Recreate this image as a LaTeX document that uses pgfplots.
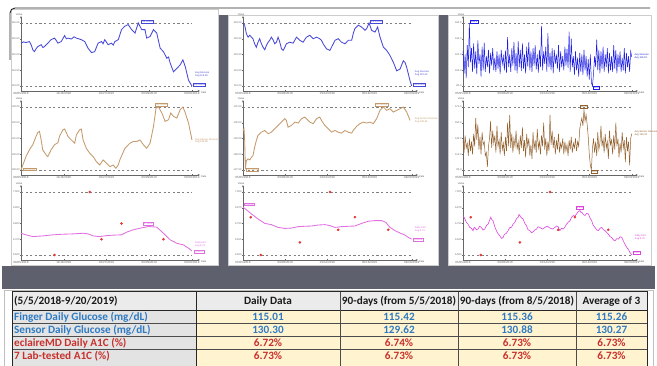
\documentclass[border=0pt]{standalone}
\usepackage{fontspec}
\setmainfont{Liberation Sans}
\newfontfamily\tabfont{Carlito}
\usepackage{pgfplots}
\pgfplotsset{compat=1.18}
\usetikzlibrary{arrows.meta}

\definecolor{gblue}{HTML}{4848D8}
\definecolor{dblue}{HTML}{1E1EE6}
\definecolor{ltbrown}{HTML}{C49A6C}
\definecolor{dbrown}{HTML}{94622F}
\definecolor{mag}{HTML}{E070E0}
\definecolor{dmag}{HTML}{DD44DD}
\definecolor{labred}{HTML}{E53935}
\definecolor{band}{HTML}{5E616D}
\definecolor{tblue}{HTML}{2E7BC4}
\definecolor{tred}{HTML}{C8302C}
\definecolor{hdrgray}{HTML}{EBEBEB}
\definecolor{lblgray}{HTML}{E3E3E3}
\definecolor{cellyel}{HTML}{FFF3D0}

\tikzset{annot/.style={font=\fontsize{2.5}{2.9}\selectfont, inner sep=0.5pt, align=left}}

\pgfplotsset{
  mini/.style={
    scale only axis, height=75pt, anchor=south west,
    axis lines=left, xmin=0, clip=false,
    axis line style={draw=black!60, line width=0.35pt, -{Stealth[length=2.4pt,width=1.8pt]}},
    tick style={draw=black!60, line width=0.3pt},
    major tick length=1.3pt,
    /pgf/number format/assume math mode=true,
    tick label style={font=\fontsize{2.6}{3}\selectfont, text=black!60, inner sep=0.6pt},
    xticklabel style={font=\fontsize{3}{3.4}\selectfont},
    ylabel=Value, xlabel=Date,
    every axis y label/.style={at={(rel axis cs:0,1)}, anchor=south east, xshift=2pt,
      font=\fontsize{2.6}{3}\selectfont, text=black!60, inner sep=0.4pt},
    every axis x label/.style={at={(rel axis cs:1,0)}, anchor=north west, xshift=0.3pt, yshift=-0.4pt,
      font=\fontsize{2.6}{3}\selectfont, text=black!60, inner sep=0.4pt},
  },
  prec/.style={yticklabel style={/pgf/number format/fixed, /pgf/number format/fixed zerofill,
      /pgf/number format/precision=#1}},
  p1/.style={mini, width=179pt, xmax=104.7, xtick={0,25,50,75,100},
    xticklabels={08/05/2018,11/16/2018,02/27/2019,06/09/2019,09/20/2019}},
  p2/.style={mini, width=175pt, xmax=103.7, xtick={0,25,50,75,100},
    xticklabels={05/05/2018,09/08/2018,01/12/2019,05/18/2019,09/20/2019}},
  p3/.style={mini, width=175pt, xmax=164.9, xtick={0,39.75,79.5,119.25,159},
    xticklabels={05/05/2018,09/08/2018,01/12/2019,05/18/2019,09/20/2019}},
  refdash/.style={draw=black!50, dash pattern=on 2.2pt off 2.4pt, line width=0.55pt},
  labdot/.style={only marks, mark=*, mark size=1.1pt, labred, mark options={draw=labred, fill=labred}},
}

\begin{document}
\begin{tikzpicture}
\path[use as bounding box, fill=white] (0,0) rectangle (657pt,366pt);

% frame, panels, separators and the summary table (y measured downward)
\begin{scope}[x=1pt,y=-1pt,shift={(0pt,366pt)}]
  \fill[band] (218,15) rectangle (228,266);
  \fill[band] (438,15) rectangle (448,266);
  \fill[band] (2,266) rectangle (655,289);
  \draw[black!20, line width=0.5pt] (11,9) rectangle (218,265);
  \draw[black!20, line width=0.5pt] (228,15) rectangle (438,265);
  \draw[black!20, line width=0.5pt] (448,15) rectangle (651,265);
  \draw[black!85, line width=0.9pt, rounded corners=5pt] (10,60) -- (10,8) -- (650,8);

  % table
  \draw[black!25, line width=0.5pt] (4,290) rectangle (653,368);
  \fill[hdrgray] (12,292) rectangle (647,310);
  \fill[lblgray] (12,310) rectangle (196,368);
  \fill[cellyel] (196,310) rectangle (647,368);
  \foreach \yy in {323,336,349} \draw[black!70, line width=0.5pt] (12,\yy) -- (647,\yy);
  \draw[black!85, line width=0.8pt] (12,310) -- (647,310);
  \foreach \xx in {340,458,576} \draw[black!70, line width=0.5pt] (\xx,292) -- (\xx,368);
  \draw[black!85, line width=0.9pt] (196,292) -- (196,368);
  \draw[black!85, line width=1pt] (12,368) -- (12,292) -- (647,292) -- (647,368);

  \begin{scope}[every node/.style={inner sep=0pt, font=\tabfont\bfseries\fontsize{11.2}{12}\selectfont}]
    \node[anchor=base west, text=black!90] at (14,305) {(5/5/2018-9/20/2019)};
    \node[anchor=base, text=black!90] at (268,305) {Daily Data};
    \node[anchor=base, text=black!90] at (399,305) {90-days (from 5/5/2018)};
    \node[anchor=base, text=black!90] at (517,305) {90-days (from 8/5/2018)};
    \node[anchor=base, text=black!90] at (611.5,305) {Average of 3};

    \node[anchor=base west, text=tblue] at (14,320.5) {Finger Daily Glucose (mg/dL)};
    \node[anchor=base west, text=tblue] at (14,333.5) {Sensor Daily Glucose (mg/dL)};
    \node[anchor=base west, text=tred] at (14,346.5) {eclaireMD Daily A1C (\%)};
    \node[anchor=base west, text=tred] at (14,359.5) {7 Lab-tested A1C (\%)};

    \node[anchor=base, text=tblue] at (268,320.5) {115.01};
    \node[anchor=base, text=tblue] at (399,320.5) {115.42};
    \node[anchor=base, text=tblue] at (517,320.5) {115.36};
    \node[anchor=base, text=tblue] at (611.5,320.5) {115.26};
    \node[anchor=base, text=tblue] at (268,333.5) {130.30};
    \node[anchor=base, text=tblue] at (399,333.5) {129.62};
    \node[anchor=base, text=tblue] at (517,333.5) {130.88};
    \node[anchor=base, text=tblue] at (611.5,333.5) {130.27};
    \node[anchor=base, text=tred] at (268,346.5) {6.72\%};
    \node[anchor=base, text=tred] at (399,346.5) {6.74\%};
    \node[anchor=base, text=tred] at (517,346.5) {6.73\%};
    \node[anchor=base, text=tred] at (611.5,346.5) {6.73\%};
    \node[anchor=base, text=tred] at (268,359.5) {6.73\%};
    \node[anchor=base, text=tred] at (399,359.5) {6.73\%};
    \node[anchor=base, text=tred] at (517,359.5) {6.73\%};
    \node[anchor=base, text=tred] at (611.5,359.5) {6.73\%};
  \end{scope}
\end{scope}

%% ---------- 90 days from 8/5/2018 ----------
\begin{axis}[p1, at={(21pt,275pt)}, ymin=113.841, ymax=116.222,
  ytick={114,114.5,115,115.5,116}, prec=2]
\addplot[refdash] coordinates {(0,116) (100,116)};
\addplot[refdash] coordinates {(0,114) (100,114)};
\addplot[gblue, line width=0.85pt] table {
x y
0 115.36
1.5 115.40
2.9 115.38
4.9 115.41
6.0 115.30
6.9 115.15
7.8 115.09
8.8 115.18
9.8 115.25
11.8 115.31
12.8 115.22
13.7 115.25
15.7 115.36
17.6 115.47
19.6 115.52
20.6 115.45
21.6 115.36
23.5 115.41
25.5 115.60
26.5 115.50
27.5 115.52
29.4 115.49
31.0 115.56
32.4 115.52
35.3 115.47
37.3 115.41
39.2 115.20
41.2 115.06
43.1 115.09
45.1 115.36
47.1 115.41
48.0 115.34
49.0 115.47
51.0 115.31
52.9 115.36
54.0 115.30
54.9 115.41
56.9 115.47
58.8 115.79
60.8 115.90
62.7 115.95
64.7 115.79
66.7 115.68
68.6 116.00
70.6 115.79
72.5 115.79
73.5 115.52
75.5 115.57
77.5 115.79
79.4 115.68
81.4 115.20
83.3 115.09
85.3 114.88
86.3 114.92
87.3 114.72
89.2 114.45
91.2 114.56
93.1 114.67
94.7 114.83
96.1 114.61
98.0 114.18
100 114.00
};
\node[annot, draw=gblue, text=gblue, anchor=south west] at (axis cs:70,116) {116.00000};
\node[annot, text=gblue, anchor=west] at (axis cs:101.5,114.38) {Avg Glucose\\Avg 115.36};
\node[annot, draw=gblue, text=gblue, anchor=south west] at (axis cs:100.5,113.98) {114.00000};
\end{axis}

\begin{axis}[p1, at={(21pt,191pt)}, ymin=128.683, ymax=133.444,
  ytick={129,130,131,132,133}, prec=2]
\addplot[refdash] coordinates {(0,133) (100,133)};
\addplot[refdash] coordinates {(0,129) (100,129)};
\addplot[ltbrown, line width=0.85pt] table {
x y
0 129.00
2.9 129.85
4.9 130.28
6.9 130.60
8.8 131.13
9.8 131.38
10.8 131.45
11.8 130.91
12.7 130.28
14.7 129.96
15.7 129.85
17.6 130.28
19.6 130.60
21.6 130.74
22.5 131.13
24.5 131.55
25.5 131.60
27.5 131.13
28.4 131.02
29.4 130.91
31.4 130.70
32.4 131.23
34.3 131.55
35.3 131.60
36.3 130.91
38.2 130.38
40.2 130.06
42.2 129.85
44.1 129.53
46.1 129.32
48.0 129.64
50.0 129.43
52.0 129.21
53.9 129.32
55.5 129.11
56.9 129.32
57.8 129.64
60.8 130.38
63.7 130.70
65.7 130.81
67.6 130.81
69.6 130.91
71.6 130.60
73.5 130.38
75.5 130.70
77.5 131.77
79.0 132.94
80.4 133.00
82.4 132.62
84.3 132.09
86.3 132.19
87.6 132.62
89.2 132.40
91.2 132.30
93.1 132.83
94.7 133.00
96.1 132.62
98.0 131.98
100 130.91
};
\node[annot, draw=ltbrown, text=ltbrown, anchor=south] at (axis cs:82,133.05) {133.00000};
\node[annot, draw=ltbrown, text=ltbrown, anchor=west] at (axis cs:1,129.05) {129.00000};
\node[annot, text=ltbrown, anchor=west] at (axis cs:101.5,130.85) {Avg Sensor Glucose\\Avg 130.88};
\end{axis}

\begin{axis}[p1, at={(21pt,106pt)}, ymin=6.5683, ymax=7.0444,
  ytick={6.6,6.7,6.8,6.9,7.0}, prec=3]
\addplot[refdash] coordinates {(0,7.0) (100,7.0)};
\addplot[refdash] coordinates {(0,6.6) (100,6.6)};
\addplot[mag, line width=0.85pt] table {
x y
0 6.738
2.9 6.728
6.9 6.717
12.7 6.721
18.6 6.728
24.5 6.732
30.4 6.734
36.3 6.738
39.2 6.734
42.2 6.721
46.1 6.717
50.0 6.723
53.9 6.726
58.8 6.728
61.8 6.745
65.7 6.760
69.6 6.770
74.5 6.781
79.4 6.777
83.3 6.738
87.3 6.696
91.2 6.674
95.1 6.664
98.0 6.643
100 6.626
};
\addplot[labdot] coordinates {(19.6,6.6) (40.2,7.0) (47.1,6.7) (58.8,6.8) (83.3,6.7)};
\node[annot, draw=mag, text=mag, anchor=south] at (axis cs:74.5,6.79) {6.78092};
\node[annot, text=mag, anchor=west] at (axis cs:101.5,6.67) {Daily A1C\\Avg 6.73};
\node[annot, draw=mag, text=mag, anchor=west] at (axis cs:101,6.62) {6.62572};
\end{axis}

%% ---------- 90 days from 5/5/2018 ----------
\begin{axis}[p2, at={(243pt,275pt)}, ymin=113.841, ymax=116.222,
  ytick={114,114.5,115,115.5,116}, prec=2]
\addplot[refdash] coordinates {(0,116) (100,116)};
\addplot[refdash] coordinates {(0,114) (100,114)};
\addplot[gblue, line width=0.85pt] table {
x y
0 116.00
1.0 115.93
2.0 115.66
3.0 115.55
4.0 115.61
5.0 115.55
5.9 115.50
6.9 115.34
7.9 115.23
8.9 115.39
9.9 115.50
10.9 115.34
11.9 115.23
12.9 115.15
13.9 115.29
14.9 115.39
15.8 115.45
16.8 115.55
17.8 115.47
18.8 115.34
19.8 115.39
20.8 115.55
21.8 115.39
22.8 115.18
23.8 115.13
24.8 115.23
25.7 115.34
27.7 115.39
29.7 115.36
31.7 115.55
33.7 115.45
35.6 115.39
37.6 115.55
39.6 115.61
41.6 115.50
43.6 115.55
45.5 115.50
46.5 115.45
47.5 115.34
49.5 115.18
51.5 115.13
53.5 115.34
54.5 115.45
56.4 115.50
58.4 115.39
60.4 115.34
62.4 115.45
64.4 115.45
65.3 115.66
66.3 115.82
68.3 115.93
70.3 115.87
72.3 115.77
73.3 115.82
74.7 116.00
76.2 115.77
78.2 115.71
79.8 115.87
81.2 115.55
83.2 115.23
85.1 115.13
87.1 114.97
89.1 114.75
91.1 114.48
93.1 114.54
95.0 114.80
96.0 114.75
97.0 114.59
98.0 114.38
99.0 114.16
100 114.00
};
\node[annot, draw=gblue, text=gblue, anchor=south west] at (axis cs:75,116) {116.00000};
\node[annot, text=gblue, anchor=west] at (axis cs:101.5,114.40) {Avg Glucose\\Avg 115.42};
\node[annot, draw=gblue, text=gblue, anchor=south west] at (axis cs:100.5,113.98) {114.00000};
\end{axis}

\begin{axis}[p2, at={(243pt,191pt)}, ymin=126.683, ymax=131.444,
  ytick={127,128,129,130,131}, prec=2]
\addplot[refdash] coordinates {(0,131) (100,131)};
\addplot[refdash] coordinates {(0,127) (100,127)};
\addplot[ltbrown, line width=0.85pt] table {
x y
0 129.51
0.6 129.62
1.0 128.87
1.4 127.05
2.0 127.60
3.0 127.70
4.0 127.64
5.0 127.81
5.9 127.91
6.9 128.45
7.9 128.87
8.9 129.19
10.9 129.40
12.9 129.51
14.9 129.30
16.8 129.40
18.8 129.62
20.8 129.83
22.8 130.04
24.8 130.26
25.7 130.15
26.7 129.72
28.7 129.83
30.7 130.04
32.7 129.98
34.7 130.26
36.6 130.36
38.6 130.15
39.6 130.04
41.6 129.94
43.6 130.26
45.5 130.36
46.5 130.15
48.5 129.83
50.5 129.62
52.5 129.40
54.5 129.51
56.4 129.40
58.4 129.34
60.4 129.51
62.4 129.40
64.4 129.34
65.3 129.51
67.3 129.77
69.3 129.94
71.3 130.04
73.3 129.98
75.2 130.04
77.2 129.94
79.2 130.26
81.2 130.79
83.2 131.00
85.1 130.79
87.1 130.89
89.1 130.68
91.1 130.79
93.1 130.89
95.0 131.00
97.0 130.68
99.0 130.15
};
\node[annot, draw=ltbrown, text=ltbrown, anchor=south] at (axis cs:82,131.05) {131.00000};
\node[annot, draw=ltbrown, text=ltbrown, anchor=west] at (axis cs:1.5,127.02) {127.05000};
\node[annot, text=ltbrown, anchor=west] at (axis cs:101.5,130.15) {Avg Sensor Glucose\\Avg 129.62};
\end{axis}

\begin{axis}[p2, at={(243pt,106pt)}, ymin=6.4604, ymax=7.0556,
  ytick={6.5,6.625,6.75,6.875,7.0}, prec=3]
\addplot[refdash] coordinates {(0,7.0) (100,7.0)};
\addplot[refdash] coordinates {(0,6.5) (100,6.5)};
\addplot[mag, line width=0.85pt] table {
x y
0 6.880
2.0 6.859
5.0 6.826
8.9 6.786
12.9 6.751
16.8 6.741
20.8 6.719
24.8 6.711
28.7 6.714
32.7 6.725
36.6 6.728
40.6 6.730
44.6 6.738
48.5 6.741
51.5 6.733
54.5 6.719
58.4 6.725
62.4 6.728
66.3 6.730
70.3 6.751
74.3 6.768
78.2 6.773
82.2 6.773
84.6 6.759
87.1 6.719
90.1 6.693
93.1 6.674
96.0 6.658
98.0 6.639
100 6.626
};
\addplot[labdot] coordinates {(4.6,6.8) (10.5,6.5) (33.7,6.6) (51.5,7.0) (56.4,6.7) (66.3,6.8) (86.1,6.7)};
\node[annot, draw=mag, text=mag, anchor=south west] at (axis cs:0.5,6.89) {6.88028};
\node[annot, text=mag, anchor=west] at (axis cs:101.5,6.70) {Daily A1C\\Avg 6.74};
\node[annot, draw=mag, text=mag, anchor=west] at (axis cs:100.5,6.62) {6.62628};
\end{axis}

%% ---------- daily data 5/5/2018 - 9/20/2019 ----------
\begin{axis}[p3, at={(463pt,275pt)}, ymin=73.66, ymax=168.89,
  ytick={80,100,120,140,160}, prec=1]
\addplot[refdash] coordinates {(0,160) (159,160)};
\addplot[refdash] coordinates {(0,80) (159,80)};
\addplot[dblue, line width=0.5pt] table[header=false, row sep=\\, x expr=\coordindex, y index=0] {
125\\96\\120\\90\\132\\104\\160\\110\\128\\98\\
134\\102\\124\\95\\138\\108\\120\\92\\130\\100\\
135\\98\\118\\104\\126\\96\\122\\106\\128\\100\\
116\\98\\124\\102\\120\\95\\126\\108\\118\\100\\
125\\97\\142\\104\\120\\98\\128\\106\\136\\100\\
122\\96\\137\\104\\126\\99\\134\\102\\120\\96\\
130\\105\\136\\100\\124\\98\\128\\106\\132\\101\\
120\\97\\126\\104\\156\\100\\124\\108\\130\\98\\
147\\104\\122\\100\\128\\96\\126\\108\\120\\102\\
132\\98\\124\\104\\118\\100\\130\\106\\127\\103\\
149\\98\\140\\104\\118\\94\\124\\100\\116\\92\\
122\\98\\120\\94\\126\\100\\118\\92\\114\\88\\
120\\84\\80\\96\\118\\104\\139\\100\\126\\96\\
124\\102\\130\\98\\120\\104\\128\\96\\122\\100\\
118\\98\\132\\102\\126\\96\\120\\104\\124\\98\\
116\\100\\128\\96\\122\\104\\118\\98\\124\\117\\
};
\node[annot, draw=dblue, text=dblue, anchor=south west] at (axis cs:7,160) {160.0};
\node[annot, draw=dblue, text=dblue, anchor=north west] at (axis cs:122.5,80) {80.0};
\node[annot, text=dblue, anchor=west] at (axis cs:161,118) {Avg Glucose\\Avg 115.01};
\end{axis}

\begin{axis}[p3, at={(463pt,191pt)}, ymin=83.66, ymax=178.89,
  ytick={90,110,130,150,170}, prec=1]
\addplot[refdash] coordinates {(0,170) (159,170)};
\addplot[refdash] coordinates {(0,90) (159,90)};
\addplot[dbrown, line width=0.5pt] table[header=false, row sep=\\, x expr=\coordindex, y index=0] {
128\\112\\134\\118\\124\\108\\130\\114\\126\\110\\
136\\120\\156\\128\\148\\116\\132\\110\\138\\122\\
126\\108\\112\\94\\120\\130\\152\\118\\140\\124\\
134\\112\\146\\120\\128\\110\\138\\116\\124\\108\\
132\\114\\150\\120\\160\\118\\136\\112\\130\\120\\
140\\116\\126\\110\\134\\118\\144\\114\\128\\106\\
136\\120\\130\\108\\122\\104\\138\\116\\128\\112\\
142\\118\\126\\110\\134\\120\\150\\116\\130\\108\\
126\\114\\160\\122\\140\\118\\132\\110\\128\\116\\
136\\112\\124\\118\\130\\110\\126\\114\\122\\108\\
128\\116\\132\\112\\124\\118\\130\\114\\126\\120\\
142\\150\\156\\146\\167\\152\\160\\148\\132\\110\\
96\\90\\118\\130\\112\\126\\108\\138\\116\\124\\
146\\120\\130\\112\\136\\118\\126\\104\\140\\122\\
128\\110\\134\\116\\150\\120\\130\\106\\124\\112\\
138\\118\\128\\100\\132\\114\\126\\96\\130\\136\\
};
\node[annot, draw=dbrown, text=dbrown, anchor=south] at (axis cs:114,168) {167.0};
\node[annot, draw=dbrown, text=dbrown, anchor=north west] at (axis cs:121,90) {90.0};
\node[annot, text=dbrown, anchor=west] at (axis cs:161,137) {Avg Sensor Glucose\\Avg 130.30};
\end{axis}

\begin{axis}[p3, xmax=103.7, xtick={0,25,50,75,100}, at={(463pt,106pt)}, ymin=6.4604, ymax=7.0556,
  ytick={6.5,6.625,6.75,6.875,7.0}, prec=3]
\addplot[refdash] coordinates {(0,7.0) (100,7.0)};
\addplot[refdash] coordinates {(0,6.5) (100,6.5)};
\addplot[dmag, line width=0.6pt] table {
x y
0 6.813
1.0 6.790
2.0 6.759
3.0 6.745
4.0 6.719
5.0 6.712
5.9 6.693
6.4 6.712
6.9 6.719
7.9 6.700
8.9 6.706
9.9 6.728
10.9 6.719
11.9 6.698
12.9 6.706
13.9 6.735
14.9 6.746
15.6 6.770
16.4 6.800
17.1 6.780
17.8 6.773
18.8 6.725
19.8 6.693
20.8 6.668
21.8 6.653
22.8 6.632
23.8 6.639
24.3 6.658
24.8 6.666
25.7 6.672
26.7 6.693
27.7 6.718
28.7 6.719
29.7 6.745
30.7 6.759
31.7 6.788
32.7 6.800
33.2 6.822
33.7 6.813
34.6 6.795
35.6 6.786
36.6 6.752
37.6 6.733
38.6 6.700
39.6 6.693
40.6 6.676
41.6 6.685
42.6 6.700
43.6 6.706
44.5 6.724
45.5 6.719
47.0 6.705
48.5 6.719
50.0 6.729
51.5 6.714
53.0 6.706
54.5 6.719
55.5 6.730
56.4 6.725
56.9 6.705
57.4 6.693
58.4 6.712
59.4 6.706
60.4 6.722
61.4 6.746
62.4 6.760
63.4 6.773
64.4 6.800
65.3 6.813
66.3 6.808
67.3 6.826
68.3 6.845
69.3 6.853
69.8 6.838
70.3 6.840
71.3 6.822
72.3 6.813
73.3 6.830
74.3 6.826
75.2 6.795
76.2 6.773
77.2 6.735
78.2 6.719
79.2 6.700
80.2 6.693
81.2 6.712
82.2 6.719
83.2 6.700
84.2 6.693
85.1 6.680
86.1 6.666
87.1 6.646
88.1 6.639
89.1 6.620
90.1 6.613
91.1 6.630
92.1 6.626
93.1 6.645
94.1 6.639
95.0 6.612
96.0 6.585
97.0 6.560
98.0 6.545
99.0 6.518
100 6.500
};
\addplot[labdot] coordinates {(4.6,6.8) (10.5,6.5) (33.7,6.6) (51.5,7.0) (56.4,6.7) (66.3,6.8) (86.1,6.7)};
\node[annot, draw=dmag, text=dmag, anchor=south] at (axis cs:69.3,6.86) {6.853};
\node[annot, text=dmag, anchor=west] at (axis cs:101.5,6.64) {Daily A1C\\Avg 6.72};
\node[annot, draw=dmag, text=dmag, anchor=south west] at (axis cs:100.5,6.505) {6.500};
\end{axis}
\end{tikzpicture}
\end{document}
